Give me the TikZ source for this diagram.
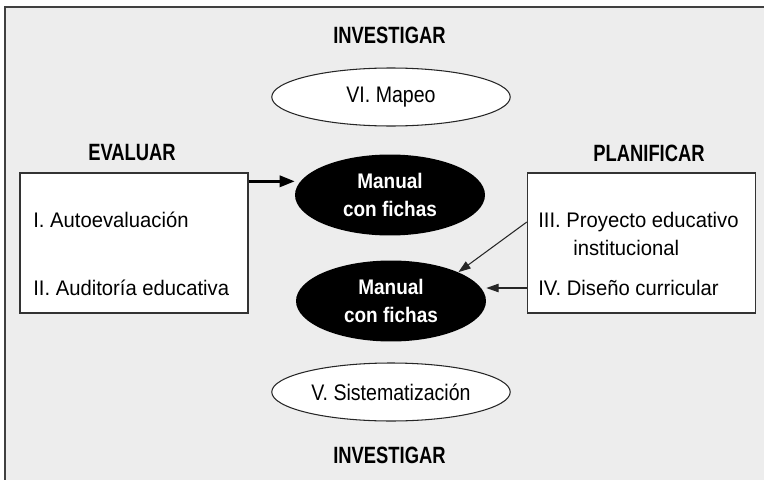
\documentclass[tikz,border=0pt]{standalone}
\usepackage{fontspec}
\setmainfont{Liberation Sans}
\newfontfamily\itemfont[FakeStretch=0.96]{Liberation Sans}
\newfontfamily\phasefont[FakeStretch=0.87]{Liberation Sans}
\newfontfamily\headfont[FakeStretch=0.78]{Liberation Sans}
\newfontfamily\manfont[FakeStretch=0.9]{Liberation Sans}
\usetikzlibrary{shapes.geometric,arrows.meta,positioning,calc}

\definecolor{panelgray}{HTML}{EDEDED}

\tikzset{
  stage/.style={font=\headfont\bfseries\fontsize{13.4}{15}\selectfont},
  phase/.style={ellipse,draw=black!85,line width=0.6pt,fill=white,inner sep=0pt,
    minimum width=4.77cm,minimum height=1.16cm,font=\phasefont\fontsize{12.8}{14}\selectfont},
  manual/.style={ellipse,fill=black,text=white,inner sep=0pt,minimum width=3.8cm,
    minimum height=1.62cm,align=center,font=\manfont\bfseries\fontsize{12}{15.9}\selectfont},
  panel/.style={draw=black!80,line width=0.8pt,fill=white,minimum width=4.56cm,
    minimum height=2.8cm},
  item/.style={anchor=west,inner sep=0pt,font=\itemfont\fontsize{12}{14}\selectfont},
  bigarrow/.style={line width=1.4pt,-{Triangle[length=8.5pt,width=6.4pt]}},
  thinarrow/.style={line width=0.6pt,draw=black!85,-{Triangle[length=7pt,width=4.8pt]}},
}

\begin{document}
\begin{tikzpicture}[x=0.02cm,y=-0.02cm]
 \useasboundingbox (0,0) rectangle (764,480);
 \clip (0,0) rectangle (764,480);
 \fill[white] (0,0) rectangle (764,480);
 \draw[draw=black!75,line width=0.6pt,fill=panelgray] (5,7) rectangle (775,490);

 % centre
 \node[manual] (man1) at (390,195) {Manual\\con fichas};
 \node[manual] (man2) at (391,301) {Manual\\con fichas};
 \node[phase] (mapeo) at (391,97) {VI. Mapeo};
 \node[phase] (sist) at (391,392) {V. Sistematización};
 \node[stage] (invtop) at (389.5,35) {INVESTIGAR};
 \node[stage] (invbot) at (389.5,455) {INVESTIGAR};

 % evaluar
 \node[panel] (lbox) at (134,243) {};
 \node[stage] (eval) at (132,153) {EVALUAR};
 \node[item] (auto) at (33,220) {I. Autoevaluación};
 \node[item] (audit) at (33,288) {II. Auditoría educativa};

 % planificar
 \node[panel] (rbox) at (641.5,243) {};
 \node[stage] (plan) at (649,153) {PLANIFICAR};
 \node[item] (proy) at (538,222) {III. Proyecto educativo};
 \node[item] (inst) at (573,248) {institucional};
 \node[item] (dis) at (538,288) {IV. Diseño curricular};

 \coordinate (evout) at ($(lbox.north east)+(0,9)$);
 \draw[bigarrow] (evout) -- (evout -| man1.west);
 \draw[thinarrow] (rbox.west |- proy) -- (man2.north east);
 \draw[thinarrow] (rbox.west |- dis) -- (man2.east |- dis);
\end{tikzpicture}
\end{document}
